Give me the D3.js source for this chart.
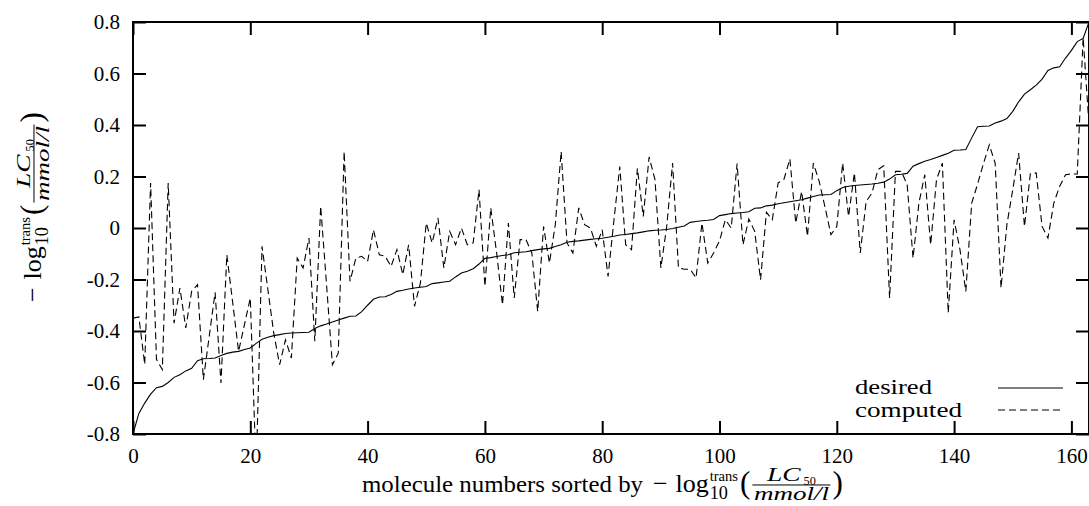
<!DOCTYPE html>
<html>
<head>
<meta charset="utf-8">
<script src="https://cdn.jsdelivr.net/npm/d3@7"></script>
<style>
  body { margin: 0; background: #fff; }
  svg { display: block; background: #fff; }
  text { font-family: "Liberation Serif", "Times New Roman", serif; fill: #000; }
</style>
</head>
<body>
<svg id="chart" width="1089" height="506"></svg>
<script>
// values, one per molecule (index 0..163)
var desired = [
  -0.800, -0.720, -0.680, -0.645, -0.620, -0.615, -0.600, -0.580, -0.570, -0.555,
  -0.545, -0.515, -0.508, -0.507, -0.505, -0.495, -0.487, -0.482, -0.479, -0.472,
  -0.466, -0.448, -0.432, -0.424, -0.418, -0.414, -0.410, -0.408, -0.407, -0.406,
  -0.405, -0.390, -0.380, -0.373, -0.365, -0.357, -0.350, -0.343, -0.342, -0.325,
  -0.300, -0.277, -0.268, -0.267, -0.258, -0.246, -0.242, -0.237, -0.233, -0.230,
  -0.227, -0.216, -0.213, -0.210, -0.207, -0.190, -0.175, -0.168, -0.158, -0.140,
  -0.118, -0.115, -0.111, -0.107, -0.104, -0.096, -0.094, -0.092, -0.088, -0.084,
  -0.081, -0.079, -0.072, -0.065, -0.055, -0.052, -0.050, -0.047, -0.044, -0.042,
  -0.040, -0.036, -0.032, -0.027, -0.025, -0.022, -0.019, -0.015, -0.011, -0.009,
  -0.008, -0.006, -0.002, 0.003, 0.008, 0.022, 0.025, 0.028, 0.030, 0.033,
  0.048, 0.052, 0.056, 0.058, 0.060, 0.063, 0.077, 0.078, 0.086, 0.089,
  0.094, 0.098, 0.102, 0.106, 0.110, 0.116, 0.122, 0.128, 0.129, 0.130,
  0.145, 0.157, 0.162, 0.165, 0.167, 0.169, 0.171, 0.174, 0.178, 0.190,
  0.207, 0.209, 0.212, 0.240, 0.250, 0.259, 0.266, 0.274, 0.282, 0.290,
  0.302, 0.303, 0.305, 0.350, 0.393, 0.395, 0.396, 0.408, 0.415, 0.425,
  0.453, 0.490, 0.520, 0.537, 0.555, 0.578, 0.612, 0.622, 0.626, 0.660,
  0.690, 0.724, 0.736, 0.800
];

var computed = [
  -0.350, -0.345, -0.530, 0.175, -0.510, -0.550, 0.175, -0.370, -0.233, -0.388,
  -0.246, -0.220, -0.589, -0.420, -0.250, -0.602, -0.104, -0.290, -0.479, -0.375,
  -0.272, -0.950, -0.071, -0.240, -0.408, -0.531, -0.434, -0.505, -0.117, -0.155,
  -0.039, -0.440, 0.084, -0.220, -0.531, -0.486, 0.297, -0.207, -0.117, -0.110,
  -0.130, -0.007, -0.104, -0.110, -0.149, -0.084, -0.181, -0.065, -0.304, -0.214,
  0.019, -0.058, 0.039, -0.155, -0.013, -0.065, 0.000, -0.065, -0.058, 0.149,
  -0.227, 0.078, -0.097, -0.298, 0.019, -0.272, -0.045, -0.045, -0.097, -0.324,
  0.006, -0.136, 0.013, 0.297, -0.058, -0.097, 0.078, 0.013, 0.000, -0.071,
  -0.007, -0.188, 0.030, 0.239, -0.065, -0.084, 0.232, 0.045, 0.276, 0.188,
  -0.155, 0.006, 0.252, -0.155, -0.160, -0.160, -0.194, 0.019, -0.136, -0.097,
  -0.050, 0.032, 0.000, 0.250, -0.065, 0.035, -0.013, -0.201, 0.061, 0.032,
  0.175, 0.190, 0.268, 0.019, 0.142, -0.032, 0.252, 0.181, 0.080, -0.026,
  0.006, 0.252, 0.045, 0.214, -0.097, 0.103, 0.136, 0.226, 0.242, -0.272,
  0.220, 0.220, 0.168, -0.117, 0.097, 0.207, -0.065, 0.188, 0.252, -0.330,
  0.032, -0.084, -0.246, 0.097, 0.170, 0.250, 0.323, 0.252, -0.233, 0.013,
  0.149, 0.291, 0.006, 0.211, 0.214, 0.006, -0.039, 0.097, 0.162, 0.207,
  0.210, 0.210, 0.740, 0.400
];

var xTicks = [0, 20, 40, 60, 80, 100, 120, 140, 160];
var yTicks = [0.8, 0.6, 0.4, 0.2, 0, -0.2, -0.4, -0.6, -0.8];
var yTickLabels = ['0.8', '0.6', '0.4', '0.2', '0', '-0.2', '-0.4', '-0.6', '-0.8'];
var seriesNames = ['desired', 'computed'];
var xLabelText = 'molecule numbers sorted by';

var margins = {top: 22, bottom: 72, left: 133, right: 0};
var width = 1089 - margins.left - margins.right;
var height = 506 - margins.top - margins.bottom;

var xScale = d3.scaleLinear().domain([0, desired.length - 1]).range([0, width]);
var yScale = d3.scaleLinear().domain([-0.8, 0.8]).range([height, 0]);

var root = d3.select('#chart');
var svg = root.append('g')
  .attr('transform', `translate(${margins.left}, ${margins.top})`);

svg.append('clipPath').attr('id', 'plotClip')
  .append('rect').attr('width', width).attr('height', height);

// axes, ticks pointing inward on all four sides
svg.append('g').attr('class', 'axis')
  .call(d3.axisLeft(yScale).tickValues(yTicks).tickSize(-13).tickPadding(13)
    .tickFormat((d, i) => yTickLabels[i]));
svg.append('g').attr('class', 'axis')
  .attr('transform', `translate(${width}, 0)`)
  .call(d3.axisRight(yScale).tickValues(yTicks).tickSize(-13).tickFormat(''));
svg.append('g').attr('class', 'axis')
  .attr('transform', `translate(0, ${height})`)
  .call(d3.axisBottom(xScale).tickValues(xTicks).tickSize(-13).tickPadding(14));
svg.append('g').attr('class', 'axis')
  .call(d3.axisTop(xScale).tickValues(xTicks).tickSize(-13).tickFormat(''));

svg.selectAll('.axis .domain').remove();
svg.selectAll('.axis line').style('stroke', '#000').style('stroke-width', '2px');
svg.selectAll('.axis text')
  .style('font-family', '"Liberation Serif", serif')
  .style('font-size', '21px')
  .style('fill', '#000');

// data lines
var line = d3.line()
  .x((d, i) => xScale(i))
  .y(d => yScale(d));

var plot = svg.append('g').attr('clip-path', 'url(#plotClip)');
plot.append('path')
  .datum(desired)
  .attr('d', line)
  .style('fill', 'none')
  .style('stroke', '#000')
  .style('stroke-width', '1.1px');
plot.append('path')
  .datum(computed)
  .attr('d', line)
  .style('fill', 'none')
  .style('stroke', '#000')
  .style('stroke-width', '1.1px')
  .style('stroke-dasharray', '7,4');

// frame
svg.append('rect')
  .attr('width', width)
  .attr('height', height)
  .style('fill', 'none')
  .style('stroke', '#000')
  .style('stroke-width', '2px');

// small helper for typeset pieces
function addText(g, str, x, y, size, italic, len) {
  var t = g.append('text')
    .attr('x', x).attr('y', y)
    .style('font-size', size + 'px')
    .text(str);
  if (italic) t.style('font-style', 'italic');
  if (len) {
    t.attr('textLength', len).attr('lengthAdjust', 'spacingAndGlyphs');
    return len;
  }
  return t.node().getComputedTextLength();
}

// legend
var legend = svg.append('g').attr('transform', 'translate(722, 366)');
var legendLens = [77, 107];
seriesNames.forEach(function(name, i) {
  addText(legend, name, 0, 6 + i * 23, 22, false, legendLens[i]);
  legend.append('line')
    .attr('x1', 143).attr('x2', 208)
    .attr('y1', i * 22).attr('y2', i * 22)
    .style('stroke', '#000')
    .style('stroke-width', '1.1px')
    .style('stroke-dasharray', i == 1 ? '7,4' : null);
});

// -log10^trans(LC50 / mmol/l)
function mathLabel(g, fs) {
  var x = 0;
  x += addText(g, '\u2212', x, 0, fs) + fs * 0.3;
  x += addText(g, 'log', x, 0, fs) + 1;
  var subW = addText(g, '10', x, fs * 0.28, fs * 0.7);
  var supW = addText(g, 'trans', x, -fs * 0.44, fs * 0.56);
  x += Math.max(subW, supW) + 2;
  x += addText(g, '(', x, 1, fs * 1.2) + 2;
  var fsf = fs * 0.76;
  var axisY = -fs * 0.27;
  var num = g.append('g');
  var lcW = addText(num, 'LC', 0, 0, fsf, true, fsf * 1.7);
  var n50 = addText(num, '50', lcW + 3, fsf * 0.22, fsf * 0.62);
  var numW = lcW + 3 + n50;
  var den = g.append('g');
  var denW = addText(den, 'mmol/l', 0, 0, fsf, true, fsf * 3.8);
  var fw = Math.max(numW, denW) + 3;
  num.attr('transform', `translate(${x + (fw - numW) / 2}, ${axisY - 4})`);
  den.attr('transform', `translate(${x + (fw - denW) / 2}, ${axisY + fsf * 0.72 + 1})`);
  g.append('line')
    .attr('x1', x).attr('x2', x + fw)
    .attr('y1', axisY).attr('y2', axisY)
    .style('stroke', '#000').style('stroke-width', '1px');
  x += fw + 2;
  x += addText(g, ')', x, 1, fs * 1.2);
  return x;
}

// x axis label
var xLab = root.append('g').attr('transform', 'translate(362, 492)');
var w0 = addText(xLab, xLabelText, 0, 0, 24, false, 281);
var xm = xLab.append('g').attr('transform', `translate(${w0 + 10}, 0)`);
mathLabel(xm, 26);

// y axis label, rotated
var yLab = root.append('g').attr('transform', 'translate(41, 302) rotate(-90)');
mathLabel(yLab, 26);
</script>
</body>
</html>
